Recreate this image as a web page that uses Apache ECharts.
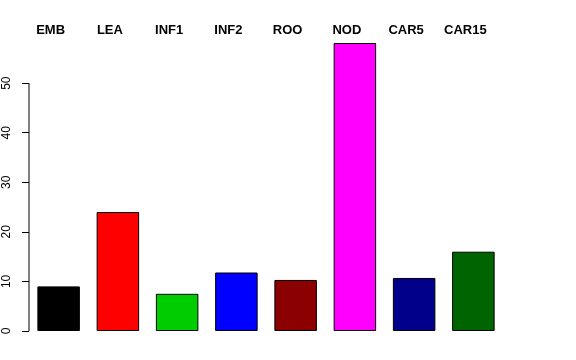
<!DOCTYPE html>
<html>
<head>
<meta charset="utf-8">
<script src="https://cdn.jsdelivr.net/npm/echarts@6/dist/echarts.min.js"></script>
<style>html,body{margin:0;padding:0;background:#fff;}#c{width:576px;height:360px;}</style>
</head>
<body>
<div id="c"></div>
<script>
var categories = ['EMB', 'LEA', 'INF1', 'INF2', 'ROO', 'NOD', 'CAR5', 'CAR15'];
var values = [9.0, 24.0, 7.5, 11.8, 10.3, 58.1, 10.7, 16.0];
var barColors = ['#000000', '#FF0000', '#00CD00', '#0000FF', '#8B0000', '#FF00FF', '#00008B', '#006400'];
var yTicks = [0, 10, 20, 30, 40, 50];

var chart = echarts.init(document.getElementById('c'), null, {renderer: 'canvas'});
var font = 'Liberation Sans, Arial, Helvetica, sans-serif';
chart.setOption({
  animation: false,
  backgroundColor: '#ffffff',
  grid: {left: 29, right: 73, top: 43, bottom: 29, containLabel: false},
  xAxis: {
    type: 'category',
    position: 'top',
    data: categories,
    axisLine: {show: false},
    axisTick: {show: false},
    axisLabel: {
      show: true, interval: 0, margin: 6,
      fontFamily: font, fontSize: 13, fontWeight: 'bold', color: '#000',
      padding: [0, 16, 0, 0]
    }
  },
  yAxis: {
    type: 'value',
    min: 0, max: 58.1,
    splitLine: {show: false},
    axisLine: {show: false},
    axisTick: {show: true, length: 7, lineStyle: {color: '#000', width: 1}, customValues: yTicks},
    axisLabel: {
      show: true, rotate: 90, margin: 16, customValues: yTicks,
      fontFamily: font, fontSize: 12, color: '#000'
    }
  },
  series: [{
    type: 'bar',
    barWidth: 42.5,
    data: values.map(function (v, i) {
      return {value: v, itemStyle: {color: barColors[i]}};
    }),
    itemStyle: {borderColor: '#000', borderWidth: 1}
  }]
});

var y0 = chart.convertToPixel({yAxisIndex: 0}, yTicks[0]);
var y1 = chart.convertToPixel({yAxisIndex: 0}, yTicks[yTicks.length - 1]);
chart.setOption({
  graphic: [{
    type: 'line',
    shape: {x1: 29, y1: y0, x2: 29, y2: y1},
    style: {stroke: '#000', lineWidth: 1}
  }]
});
</script>
</body>
</html>
